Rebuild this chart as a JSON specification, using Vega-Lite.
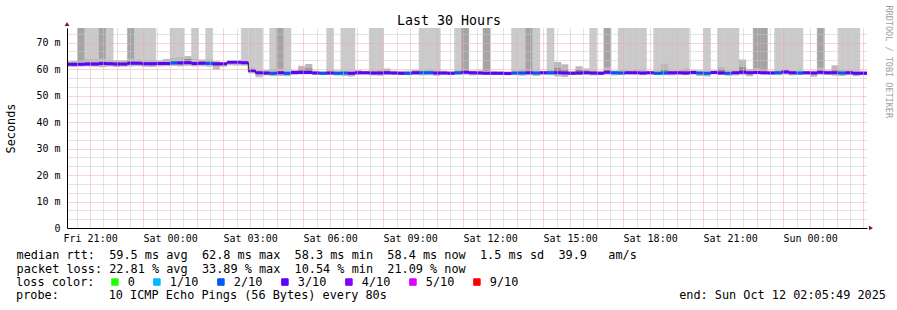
{
"$schema": "https://vega.github.io/schema/vega-lite/v6.json",
"width": 800, "height": 200, "autosize": "none",
"padding": {"left": 67, "top": 28, "right": 30, "bottom": 82},
"background": "white",
"title": {"text": "probe:\u00a0\u00a0\u00a0\u00a0\u00a0\u00a0\u00a010\u00a0ICMP\u00a0Echo\u00a0Pings\u00a0(56\u00a0Bytes)\u00a0every\u00a080s\u00a0\u00a0\u00a0\u00a0\u00a0\u00a0\u00a0\u00a0\u00a0\u00a0\u00a0\u00a0\u00a0\u00a0\u00a0\u00a0\u00a0\u00a0\u00a0\u00a0\u00a0\u00a0\u00a0\u00a0\u00a0\u00a0\u00a0\u00a0\u00a0\u00a0\u00a0\u00a0\u00a0\u00a0\u00a0\u00a0\u00a0\u00a0\u00a0\u00a0\u00a0end:\u00a0Sun\u00a0Oct\u00a012\u00a002:05:49\u00a02025",
  "orient": "bottom", "frame": "group", "anchor": "start", "dx": -51, "offset": 10, "baseline": "alphabetic", "limit": 5000,
  "font": "DejaVu Sans Mono", "fontSize": 11.85, "fontWeight": "normal", "color": "#000"},
"config": {"view": {"stroke": null}},
"data": {"values": [
{"t":0,"e":16,"med":61.8,"loss":"3/10","top":"none","lo":60.9,"hi":62.9,"il":61.3,"ih":62.4},
{"t":16,"e":32,"med":61.8,"loss":"3/10","top":"none","lo":60.8,"hi":63.0,"il":61.3,"ih":62.4},
{"t":32,"e":48,"med":61.8,"loss":"3/10","top":"dark","lo":61.0,"hi":62.9,"il":61.4,"ih":62.3},
{"t":48,"e":64,"med":61.9,"loss":"3/10","top":"light","lo":61.0,"hi":63.8,"il":61.4,"ih":62.6},
{"t":64,"e":80,"med":61.9,"loss":"3/10","top":"light","lo":60.9,"hi":63.8,"il":61.4,"ih":62.5},
{"t":80,"e":96,"med":62.1,"loss":"3/10","top":"dark","lo":60.7,"hi":64.0,"il":61.5,"ih":62.8},
{"t":96,"e":112,"med":62.0,"loss":"3/10","top":"light","lo":61.0,"hi":63.4,"il":61.5,"ih":62.6},
{"t":112,"e":128,"med":61.9,"loss":"3/10","top":"none","lo":60.8,"hi":63.3,"il":61.4,"ih":62.5},
{"t":128,"e":144,"med":61.9,"loss":"3/10","top":"none","lo":60.9,"hi":63.3,"il":61.4,"ih":62.4},
{"t":144,"e":160,"med":62.2,"loss":"3/10","top":"dark","lo":61.0,"hi":64.0,"il":61.6,"ih":62.9},
{"t":160,"e":176,"med":62.2,"loss":"3/10","top":"light","lo":61.1,"hi":63.6,"il":61.7,"ih":62.7},
{"t":176,"e":192,"med":62.0,"loss":"3/10","top":"light","lo":60.9,"hi":63.4,"il":61.5,"ih":62.6},
{"t":192,"e":208,"med":62.0,"loss":"3/10","top":"light","lo":60.8,"hi":63.5,"il":61.5,"ih":62.7},
{"t":208,"e":224,"med":62.1,"loss":"3/10","top":"none","lo":61.0,"hi":63.3,"il":61.6,"ih":62.6},
{"t":224,"e":240,"med":62.1,"loss":"3/10","top":"none","lo":61.1,"hi":63.8,"il":61.6,"ih":62.7},
{"t":240,"e":256,"med":62.3,"loss":"2/10","top":"light","lo":61.2,"hi":64.2,"il":61.8,"ih":62.9},
{"t":256,"e":272,"med":62.3,"loss":"3/10","top":"light","lo":61.0,"hi":64.5,"il":61.8,"ih":63.0},
{"t":272,"e":288,"med":62.4,"loss":"3/10","top":"none","lo":61.2,"hi":64.9,"il":61.9,"ih":63.8},
{"t":288,"e":304,"med":62.1,"loss":"3/10","top":"light","lo":61.0,"hi":63.8,"il":61.6,"ih":62.7},
{"t":304,"e":320,"med":62.2,"loss":"3/10","top":"none","lo":61.1,"hi":63.6,"il":61.7,"ih":62.8},
{"t":320,"e":336,"med":62.1,"loss":"2/10","top":"light","lo":60.9,"hi":63.8,"il":61.6,"ih":62.9},
{"t":336,"e":352,"med":62.0,"loss":"3/10","top":"none","lo":59.8,"hi":63.0,"il":61.2,"ih":62.5},
{"t":352,"e":368,"med":62.0,"loss":"3/10","top":"none","lo":60.9,"hi":62.6,"il":61.5,"ih":62.4},
{"t":368,"e":384,"med":62.6,"loss":"3/10","top":"none","lo":61.4,"hi":63.1,"il":62.1,"ih":62.9},
{"t":384,"e":400,"med":62.6,"loss":"3/10","top":"none","lo":61.3,"hi":63.2,"il":62.1,"ih":62.9},
{"t":400,"e":416,"med":62.4,"loss":"3/10","top":"light","lo":61.3,"hi":62.8,"il":61.9,"ih":62.6},
{"t":416,"e":432,"med":59.4,"loss":"3/10","top":"light","lo":58.4,"hi":60.6,"il":58.9,"ih":59.9},
{"t":432,"e":448,"med":58.6,"loss":"3/10","top":"light","lo":56.9,"hi":59.5,"il":58.2,"ih":59.0},
{"t":448,"e":464,"med":58.5,"loss":"3/10","top":"none","lo":57.6,"hi":59.6,"il":58.0,"ih":59.0},
{"t":464,"e":480,"med":58.4,"loss":"2/10","top":"light","lo":57.3,"hi":59.9,"il":57.9,"ih":58.9},
{"t":480,"e":496,"med":58.6,"loss":"3/10","top":"dark","lo":57.4,"hi":60.2,"il":58.1,"ih":59.1},
{"t":496,"e":512,"med":58.4,"loss":"2/10","top":"light","lo":57.3,"hi":59.3,"il":57.9,"ih":58.8},
{"t":512,"e":528,"med":58.7,"loss":"3/10","top":"none","lo":57.8,"hi":59.6,"il":58.2,"ih":59.1},
{"t":528,"e":544,"med":58.7,"loss":"3/10","top":"none","lo":58.0,"hi":61.2,"il":58.3,"ih":59.8},
{"t":544,"e":560,"med":58.7,"loss":"3/10","top":"none","lo":58.0,"hi":61.9,"il":58.3,"ih":60.3},
{"t":560,"e":576,"med":58.5,"loss":"3/10","top":"none","lo":57.9,"hi":59.4,"il":58.1,"ih":58.9},
{"t":576,"e":592,"med":58.4,"loss":"2/10","top":"none","lo":57.8,"hi":59.2,"il":58.0,"ih":58.8},
{"t":592,"e":608,"med":58.5,"loss":"3/10","top":"light","lo":57.9,"hi":59.5,"il":58.1,"ih":59.0},
{"t":608,"e":624,"med":58.4,"loss":"2/10","top":"none","lo":57.6,"hi":59.5,"il":58.0,"ih":58.9},
{"t":624,"e":640,"med":58.5,"loss":"2/10","top":"light","lo":57.4,"hi":59.3,"il":58.1,"ih":58.9},
{"t":640,"e":656,"med":58.4,"loss":"3/10","top":"light","lo":57.2,"hi":59.4,"il":58.0,"ih":58.8},
{"t":656,"e":672,"med":58.6,"loss":"3/10","top":"none","lo":57.9,"hi":59.6,"il":58.2,"ih":59.1},
{"t":672,"e":688,"med":58.6,"loss":"3/10","top":"none","lo":57.9,"hi":59.3,"il":58.2,"ih":59.0},
{"t":688,"e":704,"med":58.5,"loss":"3/10","top":"light","lo":57.6,"hi":59.5,"il":58.1,"ih":59.0},
{"t":704,"e":720,"med":58.5,"loss":"3/10","top":"light","lo":57.5,"hi":59.6,"il":58.1,"ih":59.1},
{"t":720,"e":736,"med":58.6,"loss":"3/10","top":"none","lo":57.8,"hi":60.2,"il":58.2,"ih":59.3},
{"t":736,"e":752,"med":58.5,"loss":"3/10","top":"none","lo":57.9,"hi":59.4,"il":58.1,"ih":58.9},
{"t":752,"e":768,"med":58.4,"loss":"3/10","top":"none","lo":57.9,"hi":59.3,"il":58.0,"ih":58.8},
{"t":768,"e":784,"med":58.4,"loss":"2/10","top":"none","lo":57.7,"hi":59.4,"il":58.0,"ih":58.8},
{"t":784,"e":800,"med":58.6,"loss":"3/10","top":"none","lo":57.8,"hi":59.7,"il":58.2,"ih":59.1},
{"t":800,"e":816,"med":58.6,"loss":"2/10","top":"light","lo":57.6,"hi":59.6,"il":58.2,"ih":59.1},
{"t":816,"e":832,"med":58.6,"loss":"2/10","top":"light","lo":57.7,"hi":60.0,"il":58.2,"ih":59.2},
{"t":832,"e":848,"med":58.5,"loss":"3/10","top":"light","lo":57.5,"hi":59.5,"il":58.1,"ih":59.0},
{"t":848,"e":864,"med":58.5,"loss":"3/10","top":"none","lo":57.9,"hi":59.4,"il":58.1,"ih":58.9},
{"t":864,"e":880,"med":58.4,"loss":"3/10","top":"none","lo":57.9,"hi":59.2,"il":58.0,"ih":58.8},
{"t":880,"e":896,"med":58.6,"loss":"2/10","top":"light","lo":57.8,"hi":59.6,"il":58.2,"ih":59.0},
{"t":896,"e":912,"med":58.8,"loss":"3/10","top":"dark","lo":57.9,"hi":59.9,"il":58.3,"ih":59.4},
{"t":912,"e":928,"med":58.6,"loss":"3/10","top":"none","lo":57.6,"hi":59.4,"il":58.2,"ih":59.0},
{"t":928,"e":944,"med":58.5,"loss":"3/10","top":"none","lo":57.9,"hi":59.5,"il":58.1,"ih":59.0},
{"t":944,"e":960,"med":58.4,"loss":"3/10","top":"dark","lo":58.0,"hi":59.3,"il":58.1,"ih":58.8},
{"t":960,"e":976,"med":58.4,"loss":"3/10","top":"none","lo":58.0,"hi":59.3,"il":58.0,"ih":58.8},
{"t":976,"e":992,"med":58.4,"loss":"3/10","top":"none","lo":57.9,"hi":59.2,"il":58.0,"ih":58.8},
{"t":992,"e":1008,"med":58.3,"loss":"3/10","top":"none","lo":57.8,"hi":59.1,"il":57.9,"ih":58.7},
{"t":1008,"e":1024,"med":58.5,"loss":"2/10","top":"light","lo":57.7,"hi":59.3,"il":58.1,"ih":58.9},
{"t":1024,"e":1040,"med":58.5,"loss":"2/10","top":"light","lo":57.5,"hi":59.6,"il":58.1,"ih":59.0},
{"t":1040,"e":1056,"med":58.6,"loss":"3/10","top":"dark","lo":57.7,"hi":59.5,"il":58.2,"ih":59.1},
{"t":1056,"e":1072,"med":58.5,"loss":"2/10","top":"light","lo":57.4,"hi":59.4,"il":58.1,"ih":58.9},
{"t":1072,"e":1088,"med":58.6,"loss":"3/10","top":"none","lo":57.9,"hi":59.3,"il":58.2,"ih":59.0},
{"t":1088,"e":1104,"med":58.6,"loss":"2/10","top":"light","lo":57.7,"hi":59.6,"il":58.2,"ih":59.1},
{"t":1104,"e":1120,"med":58.6,"loss":"3/10","top":"none","lo":57.2,"hi":62.7,"il":58.2,"ih":60.4},
{"t":1120,"e":1136,"med":58.5,"loss":"3/10","top":"none","lo":57.0,"hi":61.8,"il":58.1,"ih":59.6},
{"t":1136,"e":1152,"med":58.4,"loss":"3/10","top":"none","lo":57.8,"hi":59.3,"il":58.0,"ih":58.8},
{"t":1152,"e":1168,"med":58.5,"loss":"3/10","top":"none","lo":57.8,"hi":61.1,"il":58.1,"ih":59.6},
{"t":1168,"e":1184,"med":58.6,"loss":"3/10","top":"none","lo":57.9,"hi":60.2,"il":58.2,"ih":59.3},
{"t":1184,"e":1200,"med":58.5,"loss":"3/10","top":"light","lo":57.6,"hi":59.5,"il":58.1,"ih":59.0},
{"t":1200,"e":1216,"med":58.4,"loss":"3/10","top":"none","lo":57.9,"hi":59.3,"il":58.0,"ih":58.8},
{"t":1216,"e":1232,"med":58.8,"loss":"3/10","top":"dark","lo":57.9,"hi":60.8,"il":58.3,"ih":59.5},
{"t":1232,"e":1248,"med":58.6,"loss":"2/10","top":"none","lo":57.6,"hi":59.4,"il":58.2,"ih":59.0},
{"t":1248,"e":1264,"med":58.5,"loss":"2/10","top":"light","lo":57.8,"hi":59.6,"il":58.1,"ih":59.0},
{"t":1264,"e":1280,"med":58.6,"loss":"3/10","top":"light","lo":58.0,"hi":59.5,"il":58.2,"ih":59.1},
{"t":1280,"e":1296,"med":58.6,"loss":"3/10","top":"light","lo":57.9,"hi":60.0,"il":58.2,"ih":59.1},
{"t":1296,"e":1312,"med":58.5,"loss":"3/10","top":"light","lo":57.7,"hi":59.6,"il":58.1,"ih":59.0},
{"t":1312,"e":1328,"med":58.6,"loss":"3/10","top":"none","lo":58.0,"hi":59.3,"il":58.2,"ih":59.0},
{"t":1328,"e":1344,"med":58.4,"loss":"2/10","top":"light","lo":57.9,"hi":59.5,"il":58.0,"ih":58.9},
{"t":1344,"e":1360,"med":58.5,"loss":"2/10","top":"light","lo":57.7,"hi":62.0,"il":58.1,"ih":59.6},
{"t":1360,"e":1376,"med":58.6,"loss":"3/10","top":"light","lo":57.6,"hi":59.4,"il":58.2,"ih":59.0},
{"t":1376,"e":1392,"med":58.6,"loss":"3/10","top":"light","lo":57.8,"hi":59.5,"il":58.2,"ih":59.1},
{"t":1392,"e":1408,"med":58.5,"loss":"3/10","top":"light","lo":57.7,"hi":60.2,"il":58.1,"ih":59.3},
{"t":1408,"e":1424,"med":58.7,"loss":"3/10","top":"none","lo":57.9,"hi":59.6,"il":58.3,"ih":59.2},
{"t":1424,"e":1440,"med":58.5,"loss":"2/10","top":"none","lo":57.4,"hi":59.5,"il":58.1,"ih":58.9},
{"t":1440,"e":1456,"med":58.4,"loss":"2/10","top":"light","lo":57.2,"hi":59.3,"il":58.0,"ih":58.8},
{"t":1456,"e":1472,"med":58.7,"loss":"3/10","top":"none","lo":58.0,"hi":59.5,"il":58.3,"ih":59.1},
{"t":1472,"e":1488,"med":58.5,"loss":"3/10","top":"light","lo":57.8,"hi":60.8,"il":58.1,"ih":59.7},
{"t":1488,"e":1504,"med":58.4,"loss":"2/10","top":"light","lo":57.5,"hi":59.4,"il":58.0,"ih":58.9},
{"t":1504,"e":1520,"med":58.6,"loss":"3/10","top":"light","lo":57.6,"hi":59.5,"il":58.2,"ih":59.0},
{"t":1520,"e":1536,"med":58.8,"loss":"3/10","top":"none","lo":57.8,"hi":63.6,"il":58.3,"ih":60.6},
{"t":1536,"e":1552,"med":58.6,"loss":"3/10","top":"none","lo":57.3,"hi":59.9,"il":58.2,"ih":59.1},
{"t":1552,"e":1568,"med":58.7,"loss":"3/10","top":"dark","lo":58.0,"hi":60.4,"il":58.3,"ih":59.2},
{"t":1568,"e":1584,"med":58.6,"loss":"3/10","top":"dark","lo":57.9,"hi":59.6,"il":58.2,"ih":59.1},
{"t":1584,"e":1600,"med":58.5,"loss":"3/10","top":"none","lo":58.0,"hi":59.4,"il":58.1,"ih":59.0},
{"t":1600,"e":1616,"med":58.6,"loss":"2/10","top":"light","lo":57.7,"hi":59.5,"il":58.2,"ih":59.1},
{"t":1616,"e":1632,"med":58.9,"loss":"3/10","top":"light","lo":57.9,"hi":59.9,"il":58.4,"ih":59.4},
{"t":1632,"e":1648,"med":58.6,"loss":"3/10","top":"light","lo":57.6,"hi":59.4,"il":58.2,"ih":59.0},
{"t":1648,"e":1664,"med":58.5,"loss":"2/10","top":"light","lo":57.8,"hi":59.5,"il":58.1,"ih":59.0},
{"t":1664,"e":1680,"med":58.6,"loss":"3/10","top":"none","lo":57.9,"hi":59.3,"il":58.2,"ih":59.0},
{"t":1680,"e":1696,"med":58.5,"loss":"3/10","top":"none","lo":57.1,"hi":59.4,"il":58.1,"ih":58.9},
{"t":1696,"e":1712,"med":58.8,"loss":"3/10","top":"dark","lo":57.8,"hi":60.6,"il":58.3,"ih":59.3},
{"t":1712,"e":1728,"med":58.6,"loss":"3/10","top":"none","lo":57.8,"hi":59.5,"il":58.2,"ih":59.0},
{"t":1728,"e":1744,"med":58.6,"loss":"3/10","top":"none","lo":57.5,"hi":61.4,"il":58.2,"ih":59.5},
{"t":1744,"e":1760,"med":58.5,"loss":"2/10","top":"light","lo":57.4,"hi":59.8,"il":58.1,"ih":59.0},
{"t":1760,"e":1776,"med":58.6,"loss":"3/10","top":"light","lo":57.7,"hi":59.5,"il":58.2,"ih":59.1},
{"t":1776,"e":1792,"med":58.4,"loss":"3/10","top":"light","lo":57.3,"hi":59.4,"il":58.0,"ih":58.9},
{"t":1792,"e":1808,"med":58.4,"loss":"3/10","top":"none","lo":57.9,"hi":59.3,"il":58.0,"ih":58.8}
]},
"resolve": {"axis": {"y": "independent", "x": "independent"}},
"layer": [
{"transform": [{"filter": "datum.top != 'none'"}],
 "mark": {"type": "rect", "clip": true, "strokeWidth": 0.5},
 "encoding": {
  "x": {"field": "t", "type": "quantitative", "scale": {"domain": [8, 1808], "nice": false, "zero": false},
   "axis": {"orient": "bottom", "values": [30,60,90,120,150,180,210,240,270,300,330,360,390,420,450,480,510,540,570,600,630,660,690,720,750,780,810,840,870,900,930,960,990,1020,1050,1080,1110,1140,1170,1200,1230,1260,1290,1320,1350,1380,1410,1440,1470,1500,1530,1560,1590,1620,1650,1680,1710,1740,1770,1800],
    "grid": true, "gridColor": {"condition": {"test": "datum.value % 60 === 0", "value": "#f4a8a8"}, "value": "#c8c8c8"}, "gridDash": [1, 1], "gridWidth": 1,
    "ticks": false, "domain": true, "domainColor": "#000", "domainWidth": 1,
    "labelExpr": "(datum.value - 60) % 180 === 0 ? (['Fri','Sat','Sun'][floor((datum.value + 1200) / 1440)] + ' ' + pad(floor(((datum.value + 1200) % 1440) / 60) + '', 2, '0', 'left') + ':00') : ''",
    "labelFont": "DejaVu Sans Mono", "labelFontSize": 10, "labelColor": "#000", "labelPadding": 5, "labelFlush": false, "labelOverlap": false, "labelBaseline": "top",
    "title": ["median\u00a0rtt:\u00a0\u00a059.5\u00a0ms\u00a0avg\u00a0\u00a062.8\u00a0ms\u00a0max\u00a0\u00a058.3\u00a0ms\u00a0min\u00a0\u00a058.4\u00a0ms\u00a0now\u00a0\u00a01.5\u00a0ms\u00a0sd\u00a0\u00a039.9\u00a0\u00a0\u00a0am/s",
              "packet\u00a0loss:\u00a022.81\u00a0%\u00a0avg\u00a0\u00a033.89\u00a0%\u00a0max\u00a0\u00a010.54\u00a0%\u00a0min\u00a0\u00a021.09\u00a0%\u00a0now"],
    "titleFont": "DejaVu Sans Mono", "titleFontSize": 11.85, "titleFontWeight": "normal", "titleColor": "#000", "titleLineHeight": 14,
    "titleAlign": "left", "titleAnchor": "start", "titleBaseline": "alphabetic", "titleX": -51, "titleY": 30.3, "titleLimit": 5000,
    "zindex": 1}},
  "x2": {"field": "e"},
  "y": {"field": "il", "type": "quantitative", "scale": {"domain": [0, 75.5], "nice": false, "zero": true},
   "axis": {"orient": "left", "values": [0,3.3333,6.6667,10,13.3333,16.6667,20,23.3333,26.6667,30,33.3333,36.6667,40,43.3333,46.6667,50,53.3333,56.6667,60,63.3333,66.6667,70,73.3333],
    "grid": true, "gridColor": {"condition": {"test": "abs(datum.value - round(datum.value / 10) * 10) < 0.01", "value": "#f4a8a8"}, "value": "#c8c8c8"}, "gridDash": [1, 1], "gridWidth": 1,
    "ticks": false, "domain": true, "domainColor": "#000", "domainWidth": 1,
    "labelExpr": "abs(datum.value - round(datum.value / 10) * 10) < 0.01 ? (datum.value < 0.5 ? '0' : round(datum.value) + ' m') : ''",
    "labelFont": "DejaVu Sans Mono", "labelFontSize": 10, "labelColor": "#000", "labelPadding": 7, "labelOverlap": false, "labelFlush": false, "labelBaseline": "middle",
    "title": "Seconds", "titleFont": "DejaVu Sans Mono", "titleFontSize": 11.85, "titleFontWeight": "normal", "titleColor": "#000",
    "titleX": -53, "titleY": 100, "titleAngle": 270, "titleAlign": "center", "titleBaseline": "alphabetic",
    "zindex": 1}},
  "y2": {"datum": 75.5},
  "color": {"condition": {"test": "datum.top == 'dark'", "value": "#a4a4a4"}, "value": "#cacaca"},
  "stroke": {"condition": {"test": "datum.top == 'dark'", "value": "#a4a4a4"}, "value": "#cacaca"}
 }},
{"mark": {"type": "rect", "clip": true, "color": "#bababa"},
 "encoding": {
  "x": {"field": "t", "type": "quantitative", "axis": null}, "x2": {"field": "e"},
  "y": {"field": "lo", "type": "quantitative", "axis": null}, "y2": {"field": "hi"}}},
{"mark": {"type": "rect", "clip": true, "color": "#8a8a8a"},
 "encoding": {
  "x": {"field": "t", "type": "quantitative", "axis": null}, "x2": {"field": "e"},
  "y": {"field": "il", "type": "quantitative", "axis": null}, "y2": {"field": "ih"}}},
{"mark": {"type": "line", "clip": true, "interpolate": "step-after", "color": "#202020", "strokeWidth": 1},
 "encoding": {
  "x": {"field": "t", "type": "quantitative", "axis": null},
  "y": {"field": "med", "type": "quantitative", "axis": null}}},
{"mark": {"type": "rule", "clip": true, "strokeWidth": 3},
 "encoding": {
  "x": {"field": "t", "type": "quantitative",
   "axis": {"orient": "top", "labels": false, "ticks": false, "domain": false, "grid": false,
    "title": "Last 30 Hours", "titleX": 381.5, "titleY": -3.5, "titleAlign": "center", "titleBaseline": "alphabetic",
    "titleFont": "DejaVu Sans Mono", "titleFontSize": 13.3, "titleFontWeight": "normal", "titleColor": "#000"}},
  "x2": {"field": "e"},
  "y": {"field": "med", "type": "quantitative",
   "axis": {"orient": "right", "labels": false, "ticks": false, "domain": false, "grid": false,
    "title": "RRDTOOL / TOBI OETIKER", "titleAngle": 90, "titleX": 18, "titleY": -23, "titleAlign": "left", "titleBaseline": "alphabetic",
    "titleFont": "DejaVu Sans Mono", "titleFontSize": 8.5, "titleFontWeight": "normal", "titleColor": "#a0a0a0"}},
  "color": {"field": "loss", "type": "nominal",
   "scale": {"domain": ["0","1/10","2/10","3/10","4/10","5/10","9/10"], "range": ["#26ff00","#00b8ff","#0059ff","#5e00ff","#7e00ff","#dd00ff","#ff0000"]},
   "legend": {"orient": "none", "legendX": -51, "legendY": 248, "direction": "horizontal",
    "title": "loss color:", "titleOrient": "left", "titleFont": "DejaVu Sans Mono", "titleFontSize": 11.85, "titleFontWeight": "normal", "titleColor": "#000", "titlePadding": 14,
    "labelFont": "DejaVu Sans Mono", "labelFontSize": 11.85, "labelColor": "#000", "labelOffset": 7, "columnPadding": 16,
    "symbolType": "square", "symbolSize": 42, "symbolStrokeWidth": 1, "symbolStrokeColor": "#000", "padding": 0,
    "encode": {"symbols": {"update": {"fill": {"scale": "color", "field": "value"}, "stroke": {"value": "#000"}, "strokeWidth": {"value": 1}, "opacity": {"value": 1}}}}}}}},
{"data": {"values": [{"arrow": "up", "ax": 8, "ay": 75.5}]},
 "mark": {"type": "point", "shape": "triangle-up", "filled": true, "size": 22, "color": "#8b1010", "yOffset": -4, "opacity": 1},
 "encoding": {
  "x": {"field": "ax", "type": "quantitative", "axis": null},
  "y": {"field": "ay", "type": "quantitative", "axis": null}}},
{"data": {"values": [{"arrow": "right", "ax": 1808, "ay": 0}]},
 "mark": {"type": "point", "shape": "triangle-right", "filled": true, "size": 22, "color": "#8b1010", "xOffset": 4, "opacity": 1},
 "encoding": {
  "x": {"field": "ax", "type": "quantitative", "axis": null},
  "y": {"field": "ay", "type": "quantitative", "axis": null}}}
]
}
